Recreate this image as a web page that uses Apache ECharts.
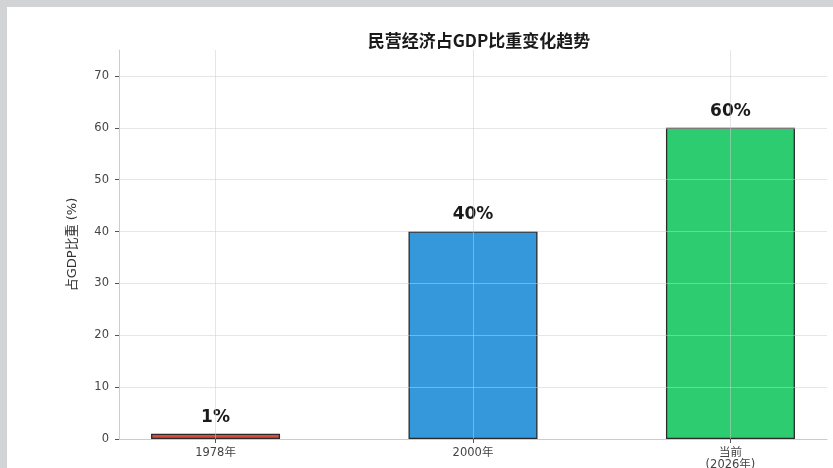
<!DOCTYPE html>
<html>
<head>
<meta charset="utf-8">
<script src="https://cdn.jsdelivr.net/npm/echarts@6/dist/echarts.min.js"></script>
<style>
  html, body {
    margin: 0;
    padding: 0;
    background: #d2d3d5;
  }
  #panel {
    position: absolute;
    left: 7px;
    top: 7px;
    width: 826px;
    height: 461px;
    background: #ffffff;
  }
  #chart {
    position: absolute;
    left: 0;
    top: 0;
    width: 833px;
    height: 468px;
  }
</style>
</head>
<body>
<div id="panel"></div>
<div id="chart"></div>
<script>
  // 数据
  var categories = ['1978年', '2000年', '当前\n(2026年)'];
  var shares = [1, 40, 60];
  var barColors = ['#e0493a', '#3498db', '#2ecc71'];
  var yTicks = [0, 10, 20, 30, 40, 50, 60, 70];

  var font = '"DejaVu Sans", "Noto Sans CJK SC", sans-serif';
  var gridColor = 'rgba(205, 205, 205, 0.5)';

  var barData = shares.map(function (v, i) {
    return {
      value: [i, v],
      itemStyle: { color: barColors[i] }
    };
  });

  var chart = echarts.init(document.getElementById('chart'));
  chart.setOption({
    backgroundColor: 'transparent',
    animation: false,
    title: {
      text: '民营经济占GDP比重变化趋势',
      left: 474,
      top: 27,
      textAlign: 'center',
      textStyle: {
        fontFamily: '"Noto Sans CJK SC", sans-serif',
        fontSize: 17,
        fontWeight: 'bold',
        color: '#1a1a1a'
      }
    },
    grid: {
      left: 119,
      right: 6,
      top: 50,
      bottom: 29,
      containLabel: false,
      outerBoundsMode: 'none'
    },
    xAxis: {
      type: 'value',
      min: -0.375,
      max: 2.375,
      z: 3,
      axisLine: { onZero: false, lineStyle: { color: '#cccccc', width: 1 } },
      axisTick: {
        show: true,
        customValues: [0, 1, 2],
        length: 4,
        lineStyle: { color: '#555555' }
      },
      axisLabel: {
        customValues: [0, 1, 2],
        formatter: function (v) { return categories[Math.round(v)]; },
        margin: 8,
        fontFamily: font,
        fontSize: 11.5,
        lineHeight: 12,
        color: '#444444'
      },
      splitLine: { show: true, lineStyle: { color: gridColor, width: 1 } }
    },
    yAxis: {
      type: 'value',
      min: 0,
      max: 75,
      z: 3,
      name: '占GDP比重 (%)',
      nameLocation: 'middle',
      nameGap: 40,
      nameTextStyle: {
        fontFamily: font,
        fontSize: 13,
        color: '#333333'
      },
      axisLine: { show: true, onZero: false, lineStyle: { color: '#cccccc', width: 1 } },
      axisTick: {
        show: true,
        customValues: yTicks,
        length: 4,
        lineStyle: { color: '#555555' }
      },
      axisLabel: {
        customValues: yTicks,
        margin: 10,
        fontFamily: font,
        fontSize: 11.5,
        color: '#444444'
      },
      splitLine: { show: true, lineStyle: { color: gridColor, width: 1 } }
    },
    series: [{
      type: 'bar',
      z: 1,
      barWidth: 129,
      data: barData,
      itemStyle: {
        borderColor: '#2b2b2b',
        borderWidth: 1.3
      },
      label: {
        show: true,
        position: 'top',
        distance: 8,
        formatter: function (p) { return p.value[1] + '%'; },
        fontFamily: font,
        fontSize: 17,
        fontWeight: 'bold',
        color: '#1a1a1a'
      }
    }]
  });
</script>
</body>
</html>
